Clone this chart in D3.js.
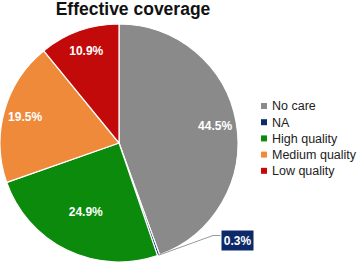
<!DOCTYPE html>
<html>
<head>
<meta charset="utf-8">
<script src="https://cdn.jsdelivr.net/npm/d3@7"></script>
<style>
  body { margin: 0; background: #fff; }
  svg { display: block; font-family: "Liberation Sans", Arial, sans-serif; }
</style>
</head>
<body>
<div id="chart"></div>
<script>
const categories = ["No care", "NA", "High quality", "Medium quality", "Low quality"];
const shares = [44.5, 0.3, 24.9, 19.5, 10.9];
const colors = ["#8a8a8a", "#0c2a6a", "#0b8a0b", "#ef8a3a", "#c30a0a"];
const title = "Effective coverage";

const width = 357;
const height = 262;
const cx = 119, cy = 143, radius = 119;

const data = categories.map((name, i) => ({ name, value: shares[i], color: colors[i] }));

const svg = d3.select("#chart")
  .append("svg")
  .attr("width", width)
  .attr("height", height);

const pie = d3.pie()
  .sort(null)
  .value(d => d.value);

const arc = d3.arc()
  .innerRadius(0)
  .outerRadius(radius);

const arcs = pie(data);

const g = svg.append("g")
  .attr("transform", `translate(${cx}, ${cy})`);

g.selectAll("path")
  .data(arcs)
  .enter()
  .append("path")
  .attr("d", arc)
  .attr("fill", d => d.data.color)
  .attr("stroke", "#fff")
  .attr("stroke-width", 1.2);

// inside labels (skip the tiny NA slice)
const labelRadius = d => d.data.name === "High quality" ? radius * 0.64 : radius * 0.82;
g.selectAll("text.slice-label")
  .data(arcs.filter(d => d.data.value > 5))
  .enter()
  .append("text")
  .attr("class", "slice-label")
  .attr("transform", d => {
    const a = (d.startAngle + d.endAngle) / 2;
    const r = labelRadius(d);
    return `translate(${Math.sin(a) * r}, ${-Math.cos(a) * r})`;
  })
  .attr("text-anchor", "middle")
  .attr("dy", "0.35em")
  .style("font-size", "12px")
  .style("font-weight", "bold")
  .style("fill", "#fff")
  .text(d => d.data.value.toFixed(1) + "%");

// callout for NA
const na = arcs.find(d => d.data.name === "NA");
const aNA = (na.startAngle + na.endAngle) / 2;
const p0 = [Math.sin(aNA) * radius, -Math.cos(aNA) * radius];
const boxX = 221 - cx, boxY = 230 - cy, boxW = 33, boxH = 21;
g.append("polyline")
  .attr("points", [p0, [boxX - 8, boxY + boxH / 2 - 5], [boxX, boxY + boxH / 2 - 5]].map(p => p.join(",")).join(" "))
  .attr("fill", "none")
  .attr("stroke", "#9a9a9a")
  .attr("stroke-width", 1);
g.append("rect")
  .attr("x", boxX)
  .attr("y", boxY)
  .attr("width", boxW)
  .attr("height", boxH)
  .attr("fill", na.data.color)
  .attr("stroke", "#fff")
  .attr("stroke-width", 1);
g.append("text")
  .attr("x", boxX + boxW / 2)
  .attr("y", boxY + boxH / 2)
  .attr("dy", "0.35em")
  .attr("text-anchor", "middle")
  .style("font-size", "12px")
  .style("font-weight", "bold")
  .style("fill", "#fff")
  .text(na.data.value.toFixed(1) + "%");

svg.append("text")
  .attr("x", 133)
  .attr("y", 15)
  .attr("text-anchor", "middle")
  .style("font-size", "17.5px")
  .style("font-weight", "bold")
  .style("fill", "#111")
  .text(title);

const legend = svg.append("g")
  .attr("transform", "translate(261, 106)");

data.forEach((d, i) => {
  const lg = legend.append("g")
    .attr("transform", `translate(0, ${i * 16.2})`);
  lg.append("rect")
    .attr("y", -3)
    .attr("width", 6)
    .attr("height", 6)
    .attr("fill", d.color);
  lg.append("text")
    .attr("x", 11)
    .attr("dy", "0.35em")
    .style("font-size", "12.5px")
    .style("fill", "#222")
    .text(d.name);
});
</script>
</body>
</html>
